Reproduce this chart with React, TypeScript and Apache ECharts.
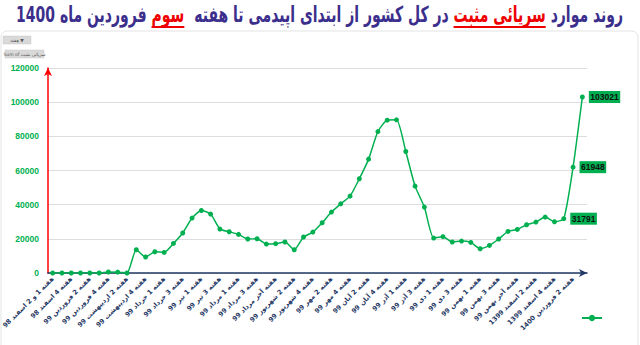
import React, { useEffect, useRef } from "react";
import * as echarts from "echarts";

const categories: string[] = [
  "هفته 1 و 2 اسفند 98", "هفته 3 اسفند 98", "هفته 4 اسفند 98", "هفته 1 فروردین 99",
  "هفته 2 فروردین 99", "هفته 3 فروردین 99", "هفته 4 فروردین 99", "هفته 1 اردیبهشت 99",
  "هفته 2 اردیبهشت 99", "هفته 3 اردیبهشت 99", "هفته 4 اردیبهشت 99", "هفته آخر اردیبهشت 99",
  "هفته 1 خرداد 99", "هفته 2 خرداد 99", "هفته 3 خرداد 99", "هفته 4 خرداد 99",
  "هفته 1 تیر 99", "هفته 2 تیر 99", "هفته 3 تیر 99", "هفته 4 تیر 99",
  "هفته 1 مرداد 99", "هفته 2 مرداد 99", "هفته 3 مرداد 99", "هفته 4 مرداد 99",
  "هفته آخر مرداد 99", "هفته 1 شهریور 99", "هفته 2 شهریور 99", "هفته 3 شهریور 99",
  "هفته 4 شهریور 99", "هفته 1 مهر 99", "هفته 2 مهر 99", "هفته 3 مهر 99",
  "هفته 4 مهر 99", "هفته 1 آبان 99", "هفته 2 آبان 99", "هفته 3 آبان 99",
  "هفته 4 آبان 99", "هفته آخر آبان 99", "هفته 1 آذر 99", "هفته 2 آذر 99",
  "هفته 3 آذر 99", "هفته 4 آذر 99", "هفته 1 دی 99", "هفته 2 دی 99",
  "هفته 3 دی 99", "هفته 4 دی 99", "هفته 1 بهمن 99", "هفته 2 بهمن 99",
  "هفته 3 بهمن 99", "هفته 4 بهمن 99", "هفته آخر بهمن 99", "هفته 1 اسفند 1399",
  "هفته 2 اسفند 1399", "هفته 3 اسفند 1399", "هفته 4 اسفند 1399", "هفته 1 فروردین 1400",
  "هفته 2 فروردین 1400", "هفته 3 فروردین 1400",
];

const positiveOutpatient: number[] = [
  0, 0, 0, 0, 0, 0, 600, 500, 0, 13600,
  9350, 12450, 12050, 17300, 23400, 32150, 36600, 34500, 25700, 24150,
  22600, 19900, 20050, 16950, 17150, 18150, 13600, 21050, 23950, 29400,
  35650, 40500, 45000, 55150, 66650, 82800, 89450, 89650, 71100, 50850,
  38600, 20450, 21250, 18150, 18700, 17900, 14200, 16150, 19900, 24350,
  25500, 28250, 29800, 32750, 30000, 31791, 61948, 103021,
];

const labeledIndices: number[] = [55, 56, 57];

const seriesName = "سرپائی مثبت";

const titleParts: { text: string; red: boolean }[] = [
  { text: "روند موارد", red: false },
  { text: "سرپائی مثبت", red: true },
  { text: "در کل کشور از ابتدای اپیدمی تا هفته", red: false },
  { text: "سوم", red: true },
  { text: "فروردین ماه 1400", red: false },
];
const titleGaps: number[] = [1, 1, 2, 1];

const filterButtonText = "هفته ▼";
const valueButtonText = "Sum of سرپائی مثبت";

const TITLE_FONT = '"DejaVu Sans", sans-serif';
const TITLE_COLOR = "#3B2E8C";
const RED = "#EE0000";
const GREEN = "#00B050";
const NAVY = "#1F3864";

function buildTitle(): any {
  const canvas = document.createElement("canvas");
  const ctx = canvas.getContext("2d")!;
  const fs = 22;
  ctx.font = `bold ${fs}px ${TITLE_FONT}`;
  const widths = titleParts.map((p) => ctx.measureText(p.text).width);
  const space = ctx.measureText(" ").width;
  const total =
    widths.reduce((a, b) => a + b, 0) +
    titleGaps.reduce((a, g) => a + g * space, 0);
  const sx = 607 / total;
  const children: any[] = [];
  let xr = 0;
  titleParts.forEach((p, i) => {
    const w = widths[i];
    children.push({
      type: "text",
      x: xr,
      y: 0,
      style: {
        text: p.text,
        fill: p.red ? RED : TITLE_COLOR,
        font: `bold ${fs}px ${TITLE_FONT}`,
        textAlign: "right",
        textVerticalAlign: "middle",
        align: "right",
        verticalAlign: "middle",
      },
    });
    if (p.red) {
      children.push({
        type: "line",
        shape: { x1: xr - w, y1: 13, x2: xr, y2: 13 },
        style: { stroke: RED, lineWidth: 2 },
      });
    }
    xr -= w + (i < titleGaps.length ? titleGaps[i] * space : 0);
  });
  return { type: "group", x: 623, y: 14, scaleX: sx, scaleY: 1, children };
}

export default function App() {
  const ref = useRef<HTMLDivElement>(null);

  useEffect(() => {
    if (!ref.current) return;
    const chart = echarts.init(ref.current, null, { renderer: "svg" });

    const seriesData = positiveOutpatient.map((v, i) =>
      labeledIndices.includes(i) ? { value: v, label: { show: true } } : v
    );

    const option: any = {
      animation: false,
      backgroundColor: "#ffffff",
      textStyle: { fontFamily: '"Liberation Sans", Arial, sans-serif' },
      grid: {
        left: 48,
        right: 53,
        top: 68,
        bottom: 72,
        containLabel: false,
        outerBoundsMode: "none",
      },
      legend: {
        show: true,
        left: 576,
        top: 309,
        itemWidth: 20,
        itemHeight: 8,
        formatter: () => "",
        data: [seriesName],
      },
      xAxis: {
        type: "category",
        data: categories,
        boundaryGap: true,
        axisLine: {
          show: true,
          symbol: ["none", "arrow"],
          symbolSize: [6, 8],
          lineStyle: { color: NAVY, width: 1.5 },
        },
        axisTick: { show: false },
        axisLabel: {
          interval: 1,
          rotate: 45,
          margin: 5,
          fontSize: 6.5,
          fontWeight: "bold",
          color: NAVY,
          fontFamily: '"DejaVu Sans", sans-serif',
        },
        splitLine: { show: false },
      },
      yAxis: {
        type: "value",
        min: 0,
        max: 120000,
        interval: 20000,
        axisLine: {
          show: true,
          symbol: ["none", "arrow"],
          symbolSize: [6, 8],
          lineStyle: { color: "#FF0000", width: 1.5 },
        },
        axisTick: { show: false },
        axisLabel: {
          margin: 9,
          fontSize: 8.5,
          fontWeight: "bold",
          color: GREEN,
          formatter: (v: number) => String(v),
        },
        splitLine: { show: true, lineStyle: { color: "#DDDDDD", width: 1 } },
      },
      series: [
        {
          name: seriesName,
          type: "line",
          data: seriesData,
          smooth: 0.2,
          symbol: "circle",
          symbolSize: 5,
          itemStyle: { color: GREEN },
          lineStyle: { color: GREEN, width: 1.5 },
          label: {
            show: false,
            position: "right",
            distance: 4,
            backgroundColor: GREEN,
            color: "#111111",
            fontWeight: "bold",
            fontSize: 8.5,
            padding: [2, 1.5, 1, 1.5],
          },
        },
      ],
      graphic: [
        {
          type: "rect",
          shape: { x: 1, y: 31, width: 637, height: 320, r: 6 },
          style: { fill: "none", stroke: "#E3E3E3", lineWidth: 1 },
          silent: true,
        },
        {
          type: "rect",
          shape: { x: 3, y: 36, width: 28, height: 8 },
          style: { fill: "#D9D9D9", stroke: "#C8C8C8", lineWidth: 0.5 },
        },
        {
          type: "text",
          x: 17,
          y: 40,
          style: {
            text: filterButtonText,
            fill: "#555555",
            font: '4.5px "DejaVu Sans", sans-serif',
            textAlign: "center",
            textVerticalAlign: "middle",
            align: "center",
            verticalAlign: "middle",
          },
        },
        {
          type: "rect",
          shape: { x: 5, y: 50, width: 39, height: 8 },
          style: { fill: "#D9D9D9", stroke: "#C8C8C8", lineWidth: 0.5 },
        },
        {
          type: "text",
          x: 24.5,
          y: 54,
          style: {
            text: valueButtonText,
            fill: "#555555",
            font: '4.5px "DejaVu Sans", sans-serif',
            textAlign: "center",
            textVerticalAlign: "middle",
            align: "center",
            verticalAlign: "middle",
          },
        },
        buildTitle(),
      ],
    };

    chart.setOption(option);
    return () => chart.dispose();
  }, []);

  return (
    <div
      ref={ref}
      style={{ position: "fixed", left: 0, top: 0, width: 640, height: 345, background: "#fff" }}
    />
  );
}
